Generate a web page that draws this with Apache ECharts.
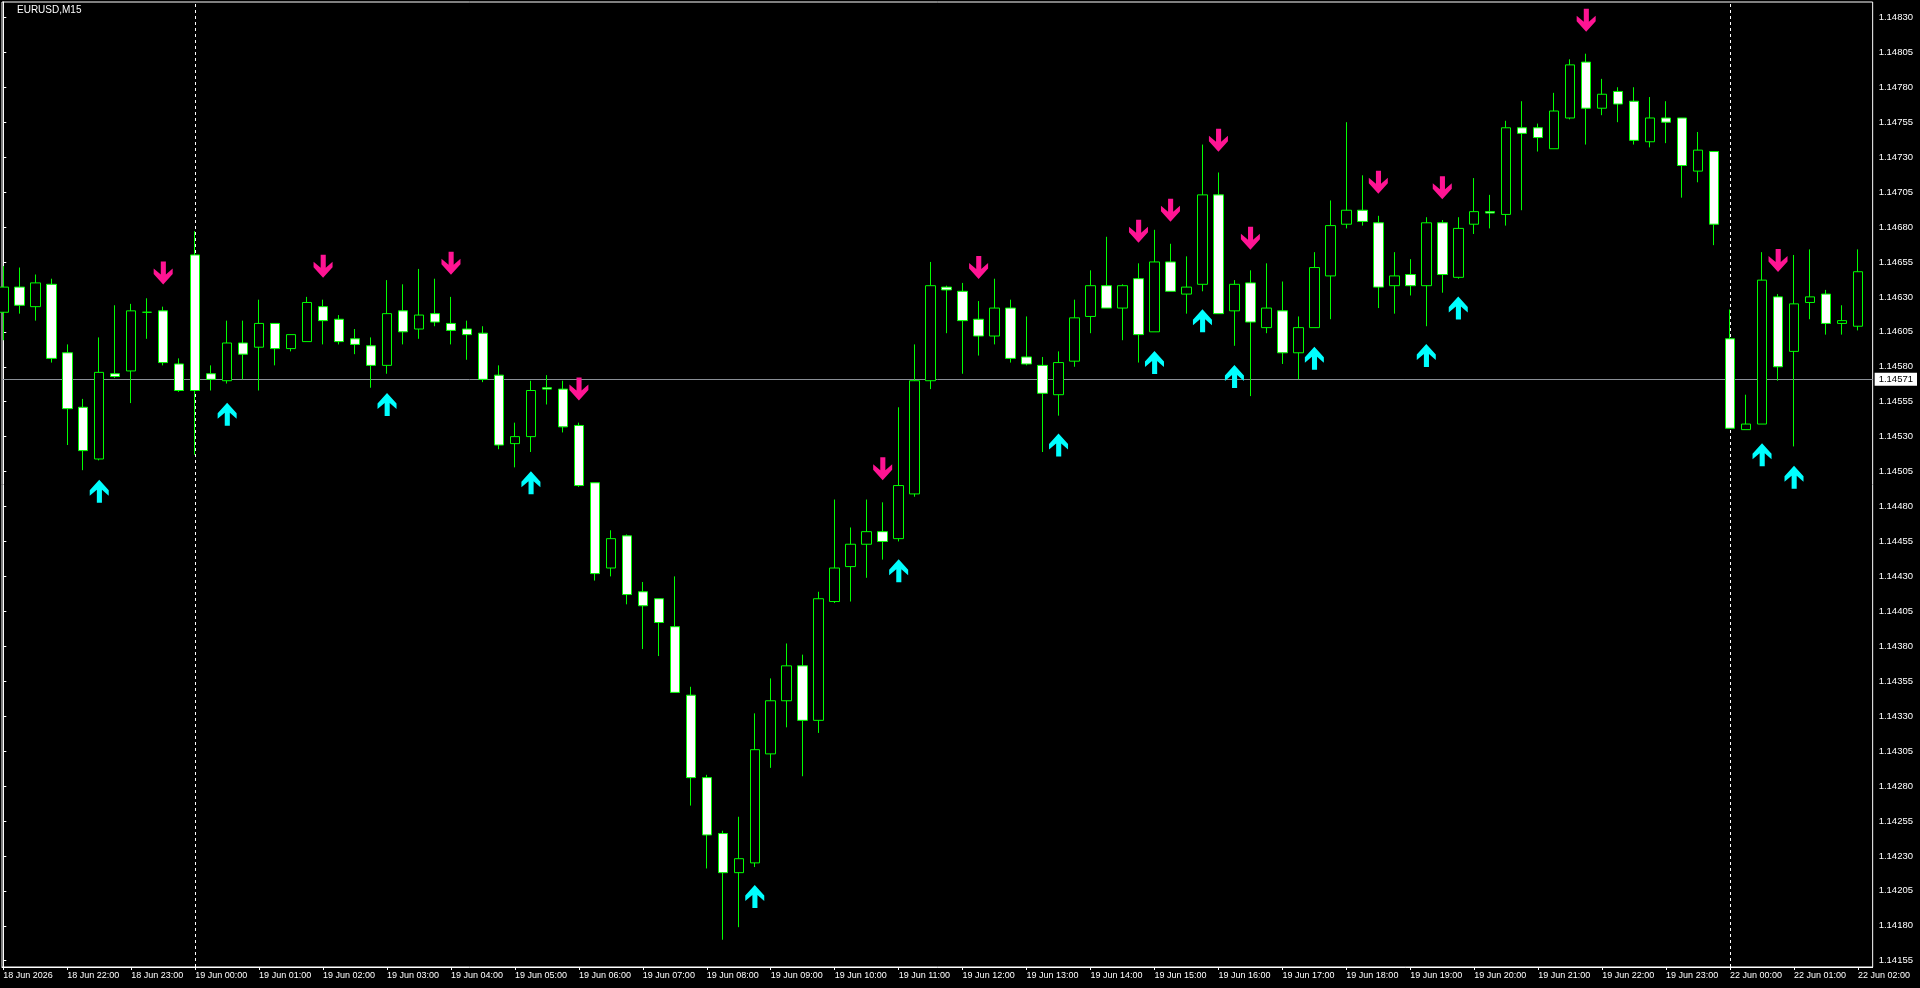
<!DOCTYPE html>
<html>
<head>
<meta charset="utf-8">
<script src="https://cdn.jsdelivr.net/npm/echarts@6/dist/echarts.min.js"></script>
<style>
html,body{margin:0;padding:0;background:#000;}
#chart{width:1920px;height:988px;}
</style>
</head>
<body>
<div id="chart"></div>
<script>
// ---- data ----
const symbolTitle = 'EURUSD,M15';
const candleTimes = [
'18 Jun 21:00','18 Jun 21:15','18 Jun 21:30','18 Jun 21:45',
'18 Jun 22:00','18 Jun 22:15','18 Jun 22:30','18 Jun 22:45',
'18 Jun 23:00','18 Jun 23:15','18 Jun 23:30','18 Jun 23:45',
'19 Jun 00:00','19 Jun 00:15','19 Jun 00:30','19 Jun 00:45',
'19 Jun 01:00','19 Jun 01:15','19 Jun 01:30','19 Jun 01:45',
'19 Jun 02:00','19 Jun 02:15','19 Jun 02:30','19 Jun 02:45',
'19 Jun 03:00','19 Jun 03:15','19 Jun 03:30','19 Jun 03:45',
'19 Jun 04:00','19 Jun 04:15','19 Jun 04:30','19 Jun 04:45',
'19 Jun 05:00','19 Jun 05:15','19 Jun 05:30','19 Jun 05:45',
'19 Jun 06:00','19 Jun 06:15','19 Jun 06:30','19 Jun 06:45',
'19 Jun 07:00','19 Jun 07:15','19 Jun 07:30','19 Jun 07:45',
'19 Jun 08:00','19 Jun 08:15','19 Jun 08:30','19 Jun 08:45',
'19 Jun 09:00','19 Jun 09:15','19 Jun 09:30','19 Jun 09:45',
'19 Jun 10:00','19 Jun 10:15','19 Jun 10:30','19 Jun 10:45',
'19 Jun 11:00','19 Jun 11:15','19 Jun 11:30','19 Jun 11:45',
'19 Jun 12:00','19 Jun 12:15','19 Jun 12:30','19 Jun 12:45',
'19 Jun 13:00','19 Jun 13:15','19 Jun 13:30','19 Jun 13:45',
'19 Jun 14:00','19 Jun 14:15','19 Jun 14:30','19 Jun 14:45',
'19 Jun 15:00','19 Jun 15:15','19 Jun 15:30','19 Jun 15:45',
'19 Jun 16:00','19 Jun 16:15','19 Jun 16:30','19 Jun 16:45',
'19 Jun 17:00','19 Jun 17:15','19 Jun 17:30','19 Jun 17:45',
'19 Jun 18:00','19 Jun 18:15','19 Jun 18:30','19 Jun 18:45',
'19 Jun 19:00','19 Jun 19:15','19 Jun 19:30','19 Jun 19:45',
'19 Jun 20:00','19 Jun 20:15','19 Jun 20:30','19 Jun 20:45',
'19 Jun 21:00','19 Jun 21:15','19 Jun 21:30','19 Jun 21:45',
'19 Jun 22:00','19 Jun 22:15','19 Jun 22:30','19 Jun 22:45',
'19 Jun 23:00','19 Jun 23:15','19 Jun 23:30','19 Jun 23:45',
'22 Jun 00:00','22 Jun 00:15','22 Jun 00:30','22 Jun 00:45',
'22 Jun 01:00','22 Jun 01:15','22 Jun 01:30','22 Jun 01:45',
'22 Jun 02:00'
];
const opens = [
1.14619,1.14637,1.14623,1.14639,1.14590,1.14551,1.14514,1.14575,1.14577,1.14619,
1.14620,1.14582,1.14660,1.14575,1.14570,1.14597,1.14594,1.14611,1.14593,1.14598,
1.14623,1.14614,1.14600,1.14595,1.14581,1.14620,1.14607,1.14618,1.14611,1.14607,
1.14604,1.14574,1.14525,1.14530,1.14565,1.14564,1.14538,1.14497,1.14436,1.14459,
1.14419,1.14414,1.14394,1.14345,1.14286,1.14246,1.14218,1.14225,1.14303,1.14341,
1.14366,1.14327,1.14412,1.14437,1.14453,1.14462,1.14457,1.14489,1.14570,1.14637,
1.14634,1.14614,1.14602,1.14622,1.14587,1.14581,1.14560,1.14584,1.14616,1.14638,
1.14622,1.14643,1.14605,1.14655,1.14632,1.14639,1.14703,1.14620,1.14640,1.14608,
1.14620,1.14590,1.14608,1.14645,1.14682,1.14692,1.14683,1.14638,1.14646,1.14638,
1.14683,1.14644,1.14682,1.14691,1.14689,1.14751,1.14751,1.14736,1.14758,1.14798,
1.14765,1.14777,1.14770,1.14741,1.14758,1.14758,1.14720,1.14734,1.14600,1.14535,
1.14539,1.14630,1.14591,1.14626,1.14632,1.14611,1.14609
];
const closes = [
1.14637,1.14624,1.14640,1.14586,1.14550,1.14520,1.14576,1.14573,1.14620,1.14619,
1.14583,1.14563,1.14563,1.14571,1.14597,1.14589,1.14611,1.14593,1.14603,1.14626,
1.14613,1.14598,1.14596,1.14581,1.14618,1.14605,1.14617,1.14612,1.14606,1.14603,
1.14571,1.14524,1.14530,1.14563,1.14564,1.14537,1.14495,1.14432,1.14457,1.14417,
1.14409,1.14397,1.14347,1.14286,1.14245,1.14218,1.14228,1.14306,1.14341,1.14366,
1.14327,1.14414,1.14436,1.14453,1.14462,1.14455,1.14495,1.14570,1.14638,1.14635,
1.14613,1.14602,1.14622,1.14586,1.14582,1.14561,1.14583,1.14615,1.14638,1.14622,
1.14638,1.14603,1.14655,1.14634,1.14637,1.14703,1.14618,1.14639,1.14612,1.14622,
1.14590,1.14608,1.14651,1.14681,1.14692,1.14684,1.14637,1.14645,1.14638,1.14683,
1.14646,1.14679,1.14691,1.14690,1.14751,1.14747,1.14744,1.14763,1.14796,1.14765,
1.14775,1.14768,1.14742,1.14758,1.14755,1.14724,1.14735,1.14682,1.14536,1.14539,
1.14642,1.14580,1.14625,1.14630,1.14611,1.14613,1.14648
];
const lows = [
1.14599,1.14618,1.14613,1.14583,1.14524,1.14506,1.14513,1.14572,1.14554,1.14600,
1.14581,1.14562,1.14517,1.14563,1.14568,1.14571,1.14563,1.14581,1.14591,1.14598,
1.14596,1.14596,1.14589,1.14565,1.14575,1.14596,1.14600,1.14609,1.14596,1.14585,
1.14569,1.14521,1.14508,1.14519,1.14553,1.14533,1.14494,1.14427,1.14430,1.14410,
1.14378,1.14373,1.14347,1.14266,1.14221,1.14170,1.14179,1.14222,1.14293,1.14322,
1.14287,1.14318,1.14411,1.14412,1.14429,1.14442,1.14455,1.14487,1.14564,1.14604,
1.14575,1.14588,1.14596,1.14583,1.14581,1.14519,1.14545,1.14580,1.14604,1.14622,
1.14599,1.14583,1.14605,1.14634,1.14618,1.14634,1.14618,1.14595,1.14559,1.14604,
1.14582,1.14571,1.14608,1.14614,1.14679,1.14681,1.14622,1.14618,1.14631,1.14609,
1.14633,1.14643,1.14675,1.14679,1.14681,1.14692,1.14734,1.14736,1.14757,1.14739,
1.14760,1.14755,1.14739,1.14737,1.14740,1.14701,1.14712,1.14667,1.14536,1.14535,
1.14539,1.14570,1.14523,1.14614,1.14603,1.14603,1.14606
];
const highs = [
1.14652,1.14651,1.14646,1.14643,1.14596,1.14557,1.14601,1.14624,1.14625,1.14629,
1.14623,1.14586,1.14677,1.14581,1.14613,1.14613,1.14628,1.14611,1.14603,1.14630,
1.14628,1.14617,1.14607,1.14601,1.14642,1.14639,1.14650,1.14643,1.14630,1.14613,
1.14609,1.14581,1.14540,1.14570,1.14574,1.14570,1.14540,1.14497,1.14463,1.14460,
1.14426,1.14414,1.14430,1.14351,1.14288,1.14248,1.14258,1.14332,1.14357,1.14382,
1.14374,1.14419,1.14485,1.14465,1.14485,1.14483,1.14551,1.14596,1.14655,1.14638,
1.14640,1.14627,1.14643,1.14628,1.14616,1.14587,1.14591,1.14628,1.14649,1.14673,
1.14639,1.14654,1.14678,1.14668,1.14659,1.14739,1.14719,1.14642,1.14649,1.14654,
1.14641,1.14616,1.14662,1.14699,1.14755,1.14717,1.14688,1.14662,1.14657,1.14687,
1.14685,1.14687,1.14715,1.14703,1.14756,1.14770,1.14754,1.14776,1.14800,1.14804,
1.14786,1.14780,1.14780,1.14773,1.14770,1.14758,1.14748,1.14734,1.14621,1.14560,
1.14662,1.14632,1.14660,1.14664,1.14635,1.14624,1.14664
];
const sellArrowIdx   = [10,20,28,36,55,61,71,73,76,78,86,90,99,111];
const sellArrowPrice = [1.14647,1.14652,1.14654,1.14564,1.14507,1.14651,1.14677,1.14692,1.14742,1.14672,1.14712,1.14708,1.14828,1.14656];
const buyArrowIdx    = [6,14,24,33,47,56,66,72,75,77,82,89,91,110,112];
const buyArrowPrice  = [1.14491,1.14546,1.14553,1.14497,1.14201,1.14434,1.14524,1.14583,1.14613,1.14573,1.14586,1.14588,1.14622,1.14517,1.14501];
const bidPrice = 1.14571;
const separatorIdx = [12,108];
const yTicks = [1.14155,1.14180,1.14205,1.14230,1.14255,1.14280,1.14305,1.14330,1.14355,1.14380,
1.14405,1.14430,1.14455,1.14480,1.14505,1.14530,1.14555,1.14580,1.14605,1.14630,
1.14655,1.14680,1.14705,1.14730,1.14755,1.14780,1.14805,1.14830];
const xTickIndex = [0,4,8,12,16,20,24,28,32,36,40,44,48,52,56,60,64,68,72,76,80,84,88,92,96,100,104,108,112,116];
const xTickLabels = ['18 Jun 2026','18 Jun 22:00','18 Jun 23:00','19 Jun 00:00','19 Jun 01:00','19 Jun 02:00',
'19 Jun 03:00','19 Jun 04:00','19 Jun 05:00','19 Jun 06:00','19 Jun 07:00','19 Jun 08:00','19 Jun 09:00',
'19 Jun 10:00','19 Jun 11:00','19 Jun 12:00','19 Jun 13:00','19 Jun 14:00','19 Jun 15:00','19 Jun 16:00',
'19 Jun 17:00','19 Jun 18:00','19 Jun 19:00','19 Jun 20:00','19 Jun 21:00','19 Jun 22:00','19 Jun 23:00',
'22 Jun 00:00','22 Jun 01:00','22 Jun 02:00'];

// ---- chart ----
const FONT = "'Liberation Sans', Arial, sans-serif";
const Y_MIN = 1.141505, Y_MAX = 1.148410;
const candleData = candleTimes.map((t, i) => [i, opens[i], closes[i], lows[i], highs[i]]);
const sellData = sellArrowIdx.map((x, k) => [x, sellArrowPrice[k]]);
const buyData = buyArrowIdx.map((x, k) => [x, buyArrowPrice[k]]);
const xLabelMap = {};
xTickIndex.forEach((v, k) => { xLabelMap[v] = xTickLabels[k]; });

const downArrow = 'path://M7 0L12 0L12 13L18.7 7L18.7 12.5L9.35 23L0 12.5L0 7L7 13Z';
const upArrow = 'path://M7 23L12 23L12 10L18.7 16L18.7 10.5L9.35 0L0 10.5L0 16L7 10Z';

const chart = echarts.init(document.getElementById('chart'), null, {renderer: 'canvas'});
chart.setOption({
  animation: false,
  backgroundColor: '#000000',
  title: {
    text: symbolTitle, left: 17, top: 5, padding: 0,
    textStyle: {color: '#ffffff', fontSize: 10, fontWeight: 'normal', fontFamily: FONT}
  },
  grid: {left: 2, right: 46, top: 2, bottom: 21, show: true, borderColor: '#ffffff', borderWidth: 1, backgroundColor: '#000000'},
  xAxis: {
    type: 'value', min: -0.08125, max: 116.91875,
    axisLine: {show: true, onZero: false, lineStyle: {color: '#ffffff', width: 1}},
    axisTick: {show: true, customValues: xTickIndex, length: 3, lineStyle: {color: '#ffffff'}},
    axisLabel: {
      show: true, customValues: xTickIndex, color: '#ffffff', fontSize: 9, fontFamily: FONT,
      align: 'left', margin: 4,
      formatter: v => xLabelMap[Math.round(v)] || ''
    },
    splitLine: {show: false}
  },
  yAxis: [
    {
      type: 'value', position: 'right', min: Y_MIN, max: Y_MAX, scale: true, z: 2,
      axisLine: {show: true, lineStyle: {color: '#ffffff', width: 1}},
      axisTick: {show: true, customValues: yTicks, length: 3, lineStyle: {color: '#ffffff'}},
      axisLabel: {
        show: true, customValues: yTicks, color: '#ffffff', fontSize: 9.5, fontFamily: FONT, margin: 6,
        formatter: v => v.toFixed(5)
      },
      splitLine: {show: false}
    },
    {
      // current bid price line + its price tag
      type: 'value', position: 'right', min: Y_MIN, max: Y_MAX, scale: true, z: 3,
      axisLine: {show: false},
      axisTick: {show: false, customValues: [bidPrice]},
      axisLabel: {
        show: true, customValues: [bidPrice], color: '#000000', backgroundColor: '#ffffff',
        padding: [2, 4, 1, 4], fontSize: 9.5, fontFamily: FONT, margin: 2,
        formatter: v => v.toFixed(5)
      },
      splitLine: {show: true, lineStyle: {color: '#8a8f96', width: 1, type: 'solid'}}
    }
  ],
  series: [
    {
      type: 'scatter', z: 1, data: [],
      markLine: {
        z: 1, silent: true, symbol: ['none', 'none'], animation: false,
        data: separatorIdx.map(x => ({
          xAxis: x,
          lineStyle: {color: '#ffffff', width: 1, type: [3, 3]},
          label: {show: false}
        }))
      }
    },
    {
      type: 'candlestick',
      z: 10,
      data: candleData,
      encode: {x: 0, y: [1, 2, 3, 4]},
      barWidth: 10,
      itemStyle: {
        color: '#000000', color0: '#ffffff',
        borderColor: '#00ff00', borderColor0: '#00ff00', borderColorDoji: '#00ff00',
        borderWidth: 1
      }
    },
    {
      type: 'scatter', z: 11, data: sellData,
      symbol: downArrow, symbolSize: [19, 23],
      itemStyle: {color: '#ff1493', opacity: 1}
    },
    {
      type: 'scatter', z: 11, data: buyData,
      symbol: upArrow, symbolSize: [19, 23],
      itemStyle: {color: '#00ffff', opacity: 1}
    }
  ]
});
</script>
</body>
</html>
